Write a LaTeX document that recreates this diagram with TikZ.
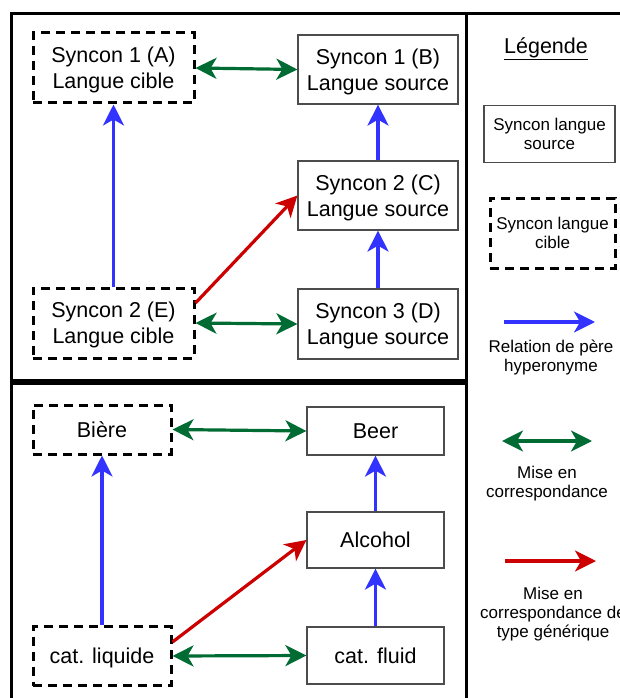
\documentclass[tikz,border=0pt]{standalone}
\usepackage{fontspec}
\setmainfont{Liberation Sans}
\usetikzlibrary{arrows.meta}

\definecolor{hyper}{RGB}{51,51,255}
\definecolor{corresp}{RGB}{0,107,51}
\definecolor{generic}{RGB}{204,0,0}

\tikzset{
  src/.style={draw=black!70, line width=1.2pt, align=center, inner sep=0pt,
    text depth=0pt, font=\fontsize{21.5}{26}\selectfont},
  cib/.style={draw=black, line width=3pt, dash pattern=on 9pt off 6pt,
    align=center, inner sep=0pt, text depth=0pt, font=\fontsize{21.5}{26}\selectfont},
  hyp/.style={hyper, line width=3.2pt, -{Stealth[length=21pt,width=21pt,inset=6pt]}},
  map/.style={corresp, line width=3.2pt,
    {Stealth[length=21pt,width=21pt,inset=6pt]}-{Stealth[length=21pt,width=21pt,inset=6pt]}},
  gen/.style={generic, line width=3.2pt, -{Stealth[length=21pt,width=21pt,inset=6pt]}},
  leg/.style={align=center, inner sep=0pt, text depth=0pt, font=\fontsize{17}{19}\selectfont}
}

\begin{document}
\begin{tikzpicture}[x=1pt,y=-1pt]
\useasboundingbox (0,0) rectangle (619,698);
% frames
\draw [line width=3pt] (11.5,13.5) rectangle (466.5,380.5);
\draw [line width=3pt] (11.5,383) rectangle (466.5,720);
\draw [line width=3pt] (466.5,13.5) rectangle (660,720);
% top panel
\node [cib, minimum width=161pt, minimum height=70pt] (A) at (113.5,68) {Syncon 1 (A)\\Langue cible};
\node [src, minimum width=160pt, minimum height=69pt] (B) at (378,69.5) {Syncon 1 (B)\\Langue source};
\node [src, minimum width=160pt, minimum height=69pt] (C) at (378,195.5) {Syncon 2 (C)\\Langue source};
\node [src, minimum width=160pt, minimum height=70pt] (D) at (378,324) {Syncon 3 (D)\\Langue source};
\node [cib, minimum width=161pt, minimum height=70pt] (E) at (113.5,323) {Syncon 2 (E)\\Langue cible};
\draw [map] (A.east) -- (B.west);
\draw [map] (E.east) -- (D.west);
\draw [hyp] (E.north) -- (A.south);
\draw [hyp] (D.north) -- (C.south);
\draw [hyp] (C.north) -- (B.south);
\draw [gen] ([yshift=20pt]E.east) -- (C.west);
% bottom panel
\node [cib, minimum width=138pt, minimum height=49pt] (biere) at (102,429.5) {Bière};
\node [src, minimum width=137pt, minimum height=48pt] (beer) at (375.5,431) {Beer};
\node [src, minimum width=137pt, minimum height=56pt] (alcohol) at (375.5,540) {Alcohol};
\node [src, minimum width=137pt, minimum height=57pt] (fluid) at (375.5,655.5) {cat. fluid};
\node [cib, minimum width=138pt, minimum height=59pt] (liquide) at (102,656) {cat. liquide};
\draw [map] (biere.east) -- (beer.west);
\draw [map] (liquide.east) -- (fluid.west);
\draw [hyp] (liquide.north) -- (biere.south);
\draw [hyp] (fluid.north) -- (alcohol.south);
\draw [hyp] (alcohol.north) -- (beer.south);
\draw [gen] ([yshift=14pt]liquide.east) -- (alcohol.west);
% legend
\node [inner sep=0pt, font=\fontsize{21.5}{26}\selectfont] (title) at (546,49) {\underline{Légende}};
\node [src, leg, minimum width=131pt, minimum height=57pt] (srckey) at (549.5,134) {Syncon langue\\source};
\node [cib, leg, minimum width=125pt, minimum height=70pt] (cibkey) at (552.5,233) {Syncon langue\\cible};
\coordinate (hypA) at (504,322);
\coordinate (hypB) at (595,322);
\draw [hyp] (hypA) -- (hypB);
\node [leg] (hyptxt) at (551,356) {Relation de père\\hyperonyme};
\coordinate (mapA) at (502,441);
\coordinate (mapB) at (592,441);
\draw [map] (mapA) -- (mapB);
\node [leg] (maptxt) at (547,482) {Mise en\\correspondance};
\coordinate (genA) at (505,561);
\coordinate (genB) at (596,561);
\draw [gen] (genA) -- (genB);
\node [leg] (gentxt) at (553,612) {Mise en\\correspondance de\\type générique};
\end{tikzpicture}
\end{document}
